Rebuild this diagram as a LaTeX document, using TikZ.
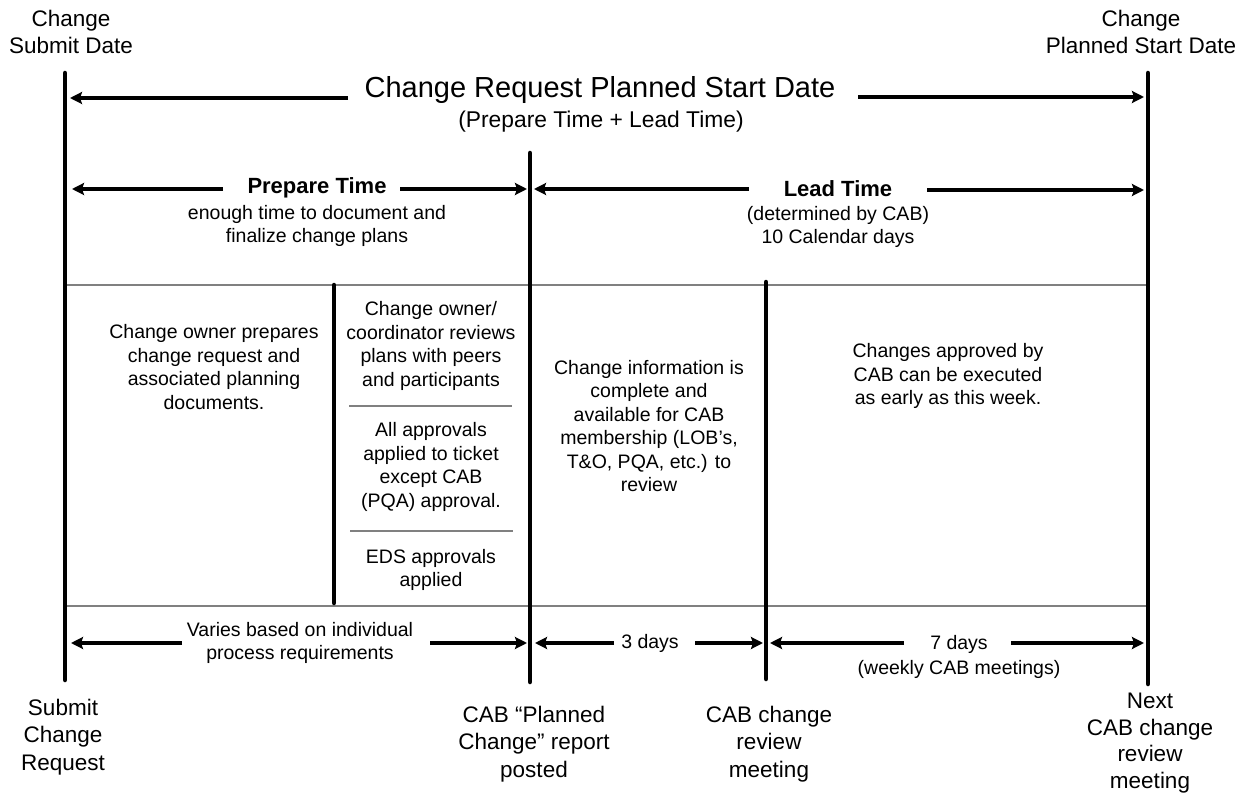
\documentclass[tikz,border=0pt]{standalone}
\usepackage{fontspec}
\setmainfont{Liberation Sans}
\usetikzlibrary{arrows.meta}
\definecolor{rulegray}{RGB}{128,128,128}
\begin{document}
\begin{tikzpicture}[x=1pt,y=-1pt,
  vline/.style={line width=4.5pt,line cap=round},
  gline/.style={line width=1.5pt,draw=rulegray},
  arr/.style={line width=3.5pt,-{Stealth[length=12pt,width=12pt,inset=2pt]}},
  lab/.style={align=center,inner sep=0pt,font=\fontsize{22.5}{27.5}\selectfont},
  txt/.style={align=center,inner sep=0pt,font=\fontsize{19.5}{23.4}\selectfont},
  hd/.style={align=center,inner sep=0pt,font=\fontsize{22}{26}\selectfont\bfseries},
]
\useasboundingbox (0,0) rectangle (1254,797);
\fill[white] (0,0) rectangle (1254,797);

% vertical time markers
\coordinate (v1t) at (65,73);   \coordinate (v1b) at (65,680);
\coordinate (vmt) at (334,285); \coordinate (vmb) at (334,603);
\coordinate (v2t) at (530,153); \coordinate (v2b) at (530,682);
\coordinate (v3t) at (766,282); \coordinate (v3b) at (766,679);
\coordinate (v4t) at (1148,73); \coordinate (v4b) at (1148,684);

% gray rules
\coordinate (g1l) at (65,285);  \coordinate (g1r) at (1148,285);
\coordinate (g2l) at (65,606);  \coordinate (g2r) at (1148,606);
\coordinate (s1l) at (349,406); \coordinate (s1r) at (512,406);
\coordinate (s2l) at (350,531); \coordinate (s2r) at (513,531);
\draw[gline] (g1l) -- (g1r);
\draw[gline] (g2l) -- (g2r);
\draw[gline] (s1l) -- (s1r);
\draw[gline] (s2l) -- (s2r);

\draw[vline] (v1t) -- (v1b);
\draw[vline] (vmt) -- (vmb);
\draw[vline] (v2t) -- (v2b);
\draw[vline] (v3t) -- (v3b);
\draw[vline] (v4t) -- (v4b);

% top labels
\node[lab] (csd) at (71,32) {Change\\Submit Date};
\node[lab] (cpsd) at (1141,32) {Change\\Planned Start Date};

% title
\node[inner sep=0pt,font=\fontsize{29}{34}\selectfont] (title) at (600,90) {Change Request Planned Start Date};
\node[inner sep=0pt,font=\fontsize{22.8}{27}\selectfont] (sub) at (601,122) {(Prepare Time + Lead Time)};
\coordinate (a1t) at (348,98);  \coordinate (a1h) at (70,98);
\coordinate (a2t) at (858,97);  \coordinate (a2h) at (1144,97);
\draw[arr] (a1t) -- (a1h);
\draw[arr] (a2t) -- (a2h);

% prepare / lead
\node[hd] (prep) at (317,188) {Prepare Time};
\node[txt,font=\fontsize{19.5}{22.5}\selectfont] (prepd) at (317,226) {enough time to document and\\finalize change plans};
\node[hd] (lead) at (838,189) {Lead Time};
\node[txt,font=\fontsize{19.5}{22.5}\selectfont] (leadd) at (838,227) {(determined by CAB)\\10 Calendar days};
\coordinate (b1t) at (223,189); \coordinate (b1h) at (72,189);
\coordinate (b2t) at (400,189); \coordinate (b2h) at (527,189);
\coordinate (b3t) at (749,189); \coordinate (b3h) at (534,189);
\coordinate (b4t) at (927,190); \coordinate (b4h) at (1144,190);
\draw[arr] (b1t) -- (b1h);
\draw[arr] (b2t) -- (b2h);
\draw[arr] (b3t) -- (b3h);
\draw[arr] (b4t) -- (b4h);

% cells
\node[txt] (c1) at (214,367) {Change owner prepares\\change request and\\associated planning\\documents.};
\node[txt] (c2a) at (431,346) {Change owner/\\coordinator reviews\\plans with peers\\and participants};
\node[txt] (c2b) at (431,467) {All approvals\\applied to ticket\\except CAB\\(PQA) approval.};
\node[txt] (c2c) at (431,570) {EDS approvals\\applied};
\node[txt] (c3) at (649,426) {Change information is\\complete and\\available for CAB\\membership (LOB’s,\\T\&O, PQA, etc.) to\\review};
\node[txt] (c4) at (948,376) {Changes approved by\\CAB can be executed\\as early as this week.};

% bottom durations
\node[txt,font=\fontsize{19.5}{22.5}\selectfont] (var) at (300,643) {Varies based on individual\\process requirements};
\node[txt] (d3) at (650,643) {3 days};
\node[txt,font=\fontsize{19.5}{25}\selectfont] (d7) at (959,657) {7 days\\(weekly CAB meetings)};
\coordinate (c1t) at (182,643); \coordinate (c1h) at (71,643);
\coordinate (c2t) at (430,643); \coordinate (c2h) at (527,643);
\coordinate (c3t) at (614,643); \coordinate (c3h) at (535,643);
\coordinate (c4t) at (695,643); \coordinate (c4h) at (763,643);
\coordinate (c5t) at (904,643); \coordinate (c5h) at (770,643);
\coordinate (c6t) at (1011,643); \coordinate (c6h) at (1144,643);
\draw[arr] (c1t) -- (c1h);
\draw[arr] (c2t) -- (c2h);
\draw[arr] (c3t) -- (c3h);
\draw[arr] (c4t) -- (c4h);
\draw[arr] (c5t) -- (c5h);
\draw[arr] (c6t) -- (c6h);

% bottom labels
\node[lab] (scr) at (63,737) {Submit\\Change\\Request};
\node[lab] (cabp) at (534,744) {CAB “Planned\\Change” report\\posted};
\node[lab] (cabr) at (769,744) {CAB change\\review\\meeting};
\node[lab,font=\fontsize{22.5}{26.7}\selectfont] (next) at (1150,743) {Next\\CAB change\\review\\meeting};
\end{tikzpicture}
\end{document}
